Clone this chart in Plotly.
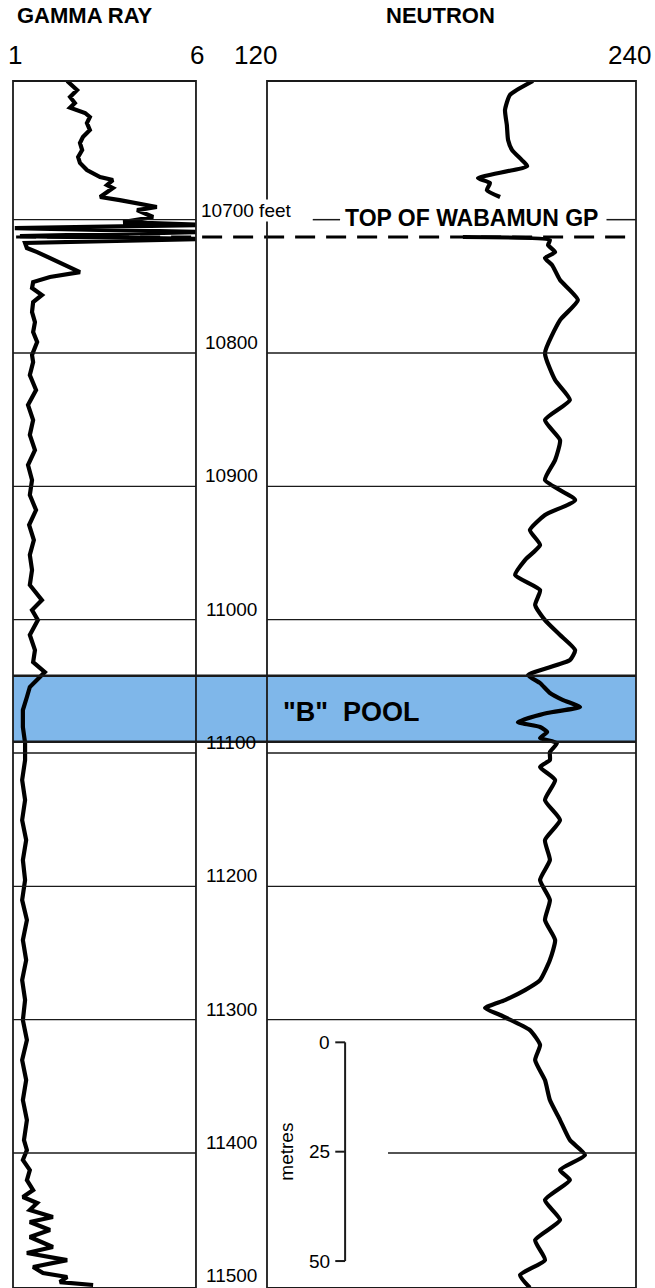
import plotly.graph_objects as go

# ---------------- data ----------------
gr_depth = [10596, 10602.8, 10608, 10612.5, 10616, 10620, 10623, 10627.5, 10632.8, 10638,
            10642.5, 10647.8, 10653, 10657.5, 10662.8, 10668, 10670.3, 10674, 10676.3, 10683,
            10685.3, 10690.5, 10692.8, 10698, 10701.8, 10704, 10706.3, 10709.3, 10712.3, 10714.5,
            10717.5, 10721.3, 10724.3, 10728.8, 10734, 10739.3, 10743, 10746.8, 10751.3, 10756.5,
            10761.8, 10769.3, 10776.8, 10784.3, 10791.8, 10801.5, 10806.8,
            10816.5, 10827.8, 10839, 10850.3, 10861.5, 10872.8, 10884, 10895.3, 10906.5, 10917.8,
            10929, 10940.3, 10951.5, 10962.8, 10974, 10985.3, 10992.8, 11000.3, 11011.5, 11022.8,
            11031.8, 11039.3, 11045.3, 11050.5, 11058, 11067.8, 11080.5, 11092.5, 11105.3, 11120.3,
            11135.3, 11150.3, 11165.3, 11180.3, 11195.3, 11210.3, 11225.3, 11240.3, 11255.3, 11270.3,
            11285.3, 11300.3, 11315.3, 11330.3, 11345.3, 11360.3, 11375.3, 11390.3,
            11397.8, 11405.3, 11412.8, 11420.3, 11427.8, 11433, 11437.5, 11442.8, 11448, 11451.8,
            11457.8, 11463, 11470.5, 11475, 11480.3, 11485.5, 11490, 11493, 11496.8, 11499]
gr_value = [2.48, 2.75, 2.56, 2.69, 2.56, 2.97, 3.10, 3.02, 3.10, 2.91,
            2.83, 2.89, 2.78, 2.83, 3.02, 3.38, 3.73, 3.57, 3.73, 3.38,
            3.92, 4.93, 4.39, 4.83, 4.01, 6.25, 1.05, 6.25, 1.19, 6.25,
            1.33, 1.38, 1.66, 2.01, 2.37, 2.83, 2.01, 1.55, 1.52, 1.79,
            1.55, 1.52, 1.60, 1.55, 1.66, 1.52, 1.55,
            1.46, 1.63, 1.41, 1.55, 1.46, 1.60, 1.41, 1.52, 1.46, 1.63,
            1.44, 1.57, 1.46, 1.52, 1.46, 1.79, 1.52, 1.68, 1.46, 1.60,
            1.55, 1.87, 1.66, 1.46, 1.38, 1.27, 1.27, 1.33, 1.33, 1.25,
            1.33, 1.25, 1.36, 1.27, 1.33, 1.25, 1.38, 1.27, 1.36, 1.25,
            1.33, 1.27, 1.38, 1.25, 1.36, 1.27, 1.38, 1.30,
            1.38, 1.27, 1.46, 1.38, 1.55, 1.27, 1.66, 1.46, 2.09, 1.46,
            2.01, 1.46, 2.09, 1.38, 2.48, 1.55, 1.82, 2.48, 2.28, 3.19]

nt_depth_a = [10596, 10606.5, 10617.8, 10629, 10640.3, 10647.8, 10655.3, 10659.8, 10668.8,
              10672.5, 10677.8, 10683]
nt_value_a = [206.5, 199, 197.4, 198, 198.4, 199.7, 202.9, 204.6, 188.6,
              192.5, 191.5, 195.8]
nt_depth_b = [10713, 10715.3, 10719, 10724.3, 10728.8, 10734, 10745.3, 10760.3, 10775.3, 10800,
              10820.3, 10835.3, 10850.3, 10865.3, 10880.3, 10895.3, 10910.3, 10921.5, 10932.8, 10944,
              10955.3, 10966.5, 10977.8, 10989, 11000.3, 11011.5, 11022.8, 11030.3, 11041.5, 11047.5,
              11055, 11060.3, 11065.5, 11070, 11076.8, 11080.5, 11084.3, 11088.8, 11092.5, 11099.3,
              11105.3, 11110.5, 11120.3, 11135.3, 11150.3, 11165.3, 11180.3, 11195.3, 11210.3, 11225.3,
              11240.3, 11255.3, 11270.3, 11277.8, 11285.3, 11291.3, 11296.5, 11307.8, 11319, 11330.3,
              11345.3, 11360.3, 11375.3, 11390.3, 11401.5, 11412.8, 11420.3, 11435.3, 11450.3, 11465.3,
              11480.3, 11491.5, 11501]
nt_value_b = [183.7, 212, 211.4, 213.7, 210.4, 212.7, 215.3, 221.1, 215.3, 210.4,
              213.7, 218.5, 210.4, 215.3, 213.7, 210.4, 220.2, 210.4, 205.5, 208.8,
              203.9, 200.7, 208.8, 207.2, 210.4, 215.3, 220.2, 218.5, 204.9, 208.8,
              212, 216.3, 221.8, 211.1, 201.6, 208.8, 211.1, 208.8, 214.3, 212,
              212, 208.8, 213.7, 210.4, 215.3, 210.4, 212, 208.8, 212, 210.4,
              213.7, 212, 208.8, 203.9, 197.4, 190.9, 195.8, 205.5, 208.8, 207.2,
              210.4, 212, 215.3, 218.5, 223.4, 215.3, 218.5, 210.4, 215.3, 207.2,
              210.4, 202.3, 205.5]

depth_ticks = [10800, 10900, 11000, 11100, 11200, 11300, 11400, 11500]
top_wabamun = 10713
pool_top, pool_bottom = 11042, 11091.5
scale_metres = [0, 25, 50]
scale_top_depth = 11317
FT_PER_M = 3.2808

# ---------------- figure ----------------
FONT = "Liberation Sans, Arial, Helvetica, sans-serif"
LINE = "#1a1a1a"
fig = go.Figure()
fig.add_trace(go.Scatter(x=gr_value, y=gr_depth, xaxis="x", yaxis="y", mode="lines",
                         line=dict(color="black", width=4.2), hoverinfo="skip"))
fig.add_trace(go.Scatter(x=nt_value_a, y=nt_depth_a, xaxis="x2", yaxis="y", mode="lines",
                         line=dict(color="black", width=4.2, shape="spline", smoothing=0.5), hoverinfo="skip"))
fig.add_trace(go.Scatter(x=nt_value_b, y=nt_depth_b, xaxis="x2", yaxis="y", mode="lines",
                         line=dict(color="black", width=4.2, shape="spline", smoothing=0.5), hoverinfo="skip"))

shapes = []
# B pool band
shapes.append(dict(type="rect", xref="paper", yref="y", x0=0, x1=1, y0=pool_top, y1=pool_bottom,
                   fillcolor="#7fb7ea", line=dict(width=0), layer="below"))
for d in (pool_top, pool_bottom):
    shapes.append(dict(type="line", xref="paper", yref="y", x0=0, x1=1, y0=d, y1=d,
                       line=dict(color=LINE, width=2.5)))
# depth grid lines
for d in depth_ticks[:-1]:
    shapes.append(dict(type="line", xref="x domain", yref="y", x0=0, x1=1, y0=d, y1=d,
                       line=dict(color=LINE, width=1.4)))
    x0 = 0.328 if d == 11400 else 0
    shapes.append(dict(type="line", xref="x2 domain", yref="y", x0=x0, x1=1, y0=d, y1=d,
                       line=dict(color=LINE, width=1.4)))
# 10700 line
shapes.append(dict(type="line", xref="x domain", yref="y", x0=0, x1=1, y0=10700, y1=10700,
                   line=dict(color=LINE, width=1.4)))
for a, b in ((0.124, 0.198), (0.92, 1.0)):
    shapes.append(dict(type="line", xref="x2 domain", yref="y", x0=a, x1=b, y0=10700, y1=10700,
                       line=dict(color=LINE, width=1.5)))
# top Wabamun dashed line
shapes.append(dict(type="line", xref="paper", yref="y", x0=0.005, x1=0.9855, y0=top_wabamun, y1=top_wabamun,
                   line=dict(color="black", width=3, dash="20px,11px")))
# panel frames
for ax in ("x", "x2"):
    shapes.append(dict(type="rect", xref=ax + " domain", yref="y domain", x0=0, x1=1, y0=0, y1=1,
                       line=dict(color=LINE, width=1.8)))
# metre scale bar
sb_x, sb_tick = 145.4, 142.2
sb_d = [scale_top_depth + m * FT_PER_M for m in scale_metres]
shapes.append(dict(type="line", xref="x2", yref="y", x0=sb_x, x1=sb_x, y0=sb_d[0], y1=sb_d[-1],
                   line=dict(color=LINE, width=2)))
for d in sb_d:
    shapes.append(dict(type="line", xref="x2", yref="y", x0=sb_tick, x1=sb_x, y0=d, y1=d,
                       line=dict(color=LINE, width=2)))


def txt(text, x, y, xref="paper", yref="paper", size=19, xa="center", ya="middle", **kw):
    return dict(text=text, x=x, y=y, xref=xref, yref=yref, xanchor=xa, yanchor=ya,
                showarrow=False, font=dict(family=FONT, size=size, color="black"), **kw)


ann = []
ann.append(txt("<b>GAMMA RAY</b>", 0.116, 1.054, size=22))
ann.append(txt("<b>NEUTRON</b>", 0.686, 1.054, size=22))
for t, xp, anc in (("1", -0.011, "left"), ("6", 0.296, "center"), ("120", 0.39, "center"), ("240", 1.027, "right")):
    ann.append(txt(t, xp, 1.0215, size=26, xa=anc))
for d in depth_ticks:
    ann.append(txt(str(d), 0.35, d, yref="y", ya="bottom", size=19, yshift=-2))
ann.append(txt("10700 feet", 0.3, 10700, yref="y", xa="left", ya="bottom", size=19,
               bgcolor="white", borderpad=0, yshift=-2))
ann.append(txt("<b>TOP OF WABAMUN GP</b>", 186.5, 10699, xref="x2", yref="y", size=23))
ann.append(txt('<b>"B"&nbsp; POOL</b>', 147.5, 11069, xref="x2", yref="y", size=27))
for m, d in zip(scale_metres, sb_d):
    ann.append(txt(str(m), 141, d, xref="x2", yref="y", xa="right", size=19))
ann.append(txt("metres", 126.5, sb_d[1], xref="x2", yref="y", size=19, textangle=-90))

fig.update_layout(
    width=655, height=1288, margin=dict(l=13, r=19, t=81, b=0),
    paper_bgcolor="white", plot_bgcolor="rgba(0,0,0,0)", showlegend=False,
    xaxis=dict(domain=[0, 0.2937], range=[1, 6], visible=False, fixedrange=True),
    xaxis2=dict(domain=[0.4077, 1], range=[120, 240], visible=False, anchor="y", fixedrange=True),
    yaxis=dict(domain=[0, 1], range=[11501.25, 10596], visible=False, anchor="x", fixedrange=True),
    shapes=shapes, annotations=ann,
)
fig.write_html("out.html", config={"displayModeBar": False},
               post_script="document.body.style.margin='0';document.body.style.overflow='hidden';")
